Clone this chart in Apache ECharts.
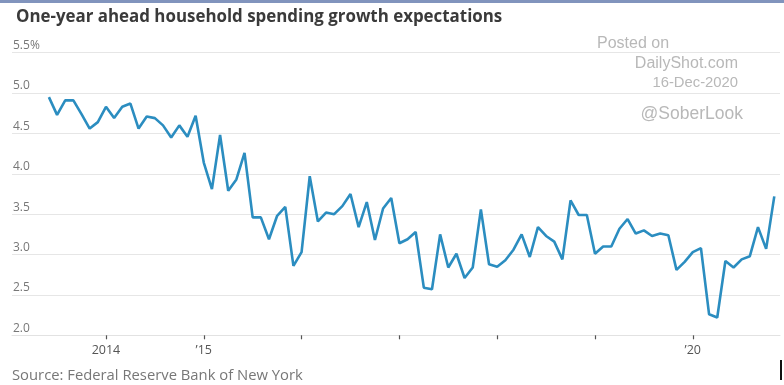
<!DOCTYPE html>
<html>
<head>
<meta charset="utf-8">
<script src="https://cdn.jsdelivr.net/npm/echarts@6/dist/echarts.min.js"></script>
<style>
html,body{margin:0;padding:0;background:#fff;}
#chart{width:784px;height:385px;}
</style>
</head>
<body>
<div id="chart"></div>
<script>
// Monthly data, June 2013 .. Nov 2020
const startYear = 2013, startMonth = 6;
const values = [
  4.95, 4.73, 4.91, 4.91, 4.74, 4.56, 4.64,
  4.83, 4.69, 4.83, 4.87, 4.56, 4.71, 4.69, 4.60, 4.45, 4.60, 4.46, 4.72,
  4.14, 3.81, 4.48, 3.79, 3.93, 4.26, 3.46, 3.46, 3.19, 3.48, 3.59, 2.86,
  3.03, 3.97, 3.41, 3.52, 3.50, 3.60, 3.75, 3.34, 3.65, 3.18, 3.57, 3.70,
  3.14, 3.19, 3.28, 2.59, 2.57, 3.25, 2.84, 3.01, 2.71, 2.84, 3.56, 2.88,
  2.85, 2.93, 3.06, 3.25, 2.97, 3.34, 3.23, 3.16, 2.94, 3.67, 3.49, 3.49,
  3.01, 3.10, 3.10, 3.32, 3.44, 3.26, 3.30, 3.23, 3.26, 3.24, 2.81, 2.91,
  3.03, 3.08, 2.26, 2.22, 2.92, 2.84, 2.94, 2.98, 3.34, 3.07, 3.72
];
const months = values.map((_, i) => {
  const m = startMonth - 1 + i;
  const y = startYear + Math.floor(m / 12);
  return y + '-' + String(m % 12 + 1).padStart(2, '0');
});
const tickMonths = ['2014-01','2015-01','2016-01','2017-01','2018-01','2019-01','2020-01'];
const labelMonths = ['2014-01','2015-01','2020-01'];
const labelTexts = ['2014','\u201915','\u201920'];
const yTicks = [2.0, 2.5, 3.0, 3.5, 4.0, 4.5, 5.0, 5.5];

const tickIdx = tickMonths.map(m => months.indexOf(m));
const labelIdx = labelMonths.map(m => months.indexOf(m));

const wm = '#b8b8b8';
const chart = echarts.init(document.getElementById('chart'), null, {renderer: 'canvas'});
chart.setOption({
  animation: false,
  backgroundColor: '#fff',
  title: {
    text: 'One-year ahead household spending growth expectations',
    left: 11, top: 4,
    textStyle: {fontFamily: 'Open Sans', fontWeight: 'bold', fontSize: 16.9, color: '#3a3a3a'}
  },
  grid: {left: 12, right: 4, top: 52.7, bottom: 49.7, outerBoundsMode: 'none'},
  xAxis: {
    type: 'value',
    min: -4.53, max: 89.7,
    splitLine: {show: false},
    axisLine: {show: true, lineStyle: {color: '#e2e2e2', width: 1}},
    axisTick: {show: true, customValues: tickIdx, length: 4, lineStyle: {color: '#555', width: 1.2}},
    axisLabel: {
      customValues: labelIdx,
      formatter: v => labelTexts[labelIdx.indexOf(Math.round(v))] || '',
      margin: 9, fontSize: 12.5, color: '#555', fontFamily: 'Open Sans'
    }
  },
  yAxis: {
    type: 'value',
    min: yTicks[0], max: yTicks[yTicks.length - 1], interval: 0.5,
    axisLine: {show: false},
    axisTick: {show: false},
    splitLine: {lineStyle: {color: '#e6e6e6', width: 1}},
    axisLabel: {
      inside: true, margin: 1, verticalAlign: 'bottom', padding: [0,0,1,0],
      fontSize: 12, color: '#777', fontFamily: 'Open Sans',
      formatter: v => v === 5.5 ? '5.5%' : v.toFixed(1)
    }
  },
  series: [{
    type: 'line',
    data: values.map((v, i) => [i, v]),
    showSymbol: false,
    lineStyle: {color: '#2b8dc0', width: 2.6},
    itemStyle: {color: '#2b8dc0'}
  }],
  graphic: [
    {type: 'rect', left: 0, top: 0, shape: {width: 784, height: 3}, style: {fill: '#8194bd'}},
    {type: 'text', x: 12, y: 376, style: {text: 'Source: Federal Reserve Bank of New York', font: '14.8px "Open Sans"', fill: '#777', verticalAlign: 'middle'}},
    {type: 'text', x: 597, y: 44, style: {text: 'Posted on', font: '16px "Liberation Sans"', fill: wm, verticalAlign: 'middle'}},
    {type: 'text', x: 738, y: 64, style: {text: 'DailyShot.com', font: '16px "Liberation Sans"', fill: wm, align: 'right', verticalAlign: 'middle'}},
    {type: 'text', x: 738, y: 83, style: {text: '16-Dec-2020', font: '14.8px "Liberation Sans"', fill: wm, align: 'right', verticalAlign: 'middle'}},
    {type: 'text', x: 743, y: 114, style: {text: '@SoberLook', font: '17.5px "Liberation Sans"', fill: wm, align: 'right', verticalAlign: 'middle'}},
    {type: 'rect', left: 780, top: 360, shape: {width: 2, height: 20}, style: {fill: '#111'}}
  ]
});
</script>
</body>
</html>
